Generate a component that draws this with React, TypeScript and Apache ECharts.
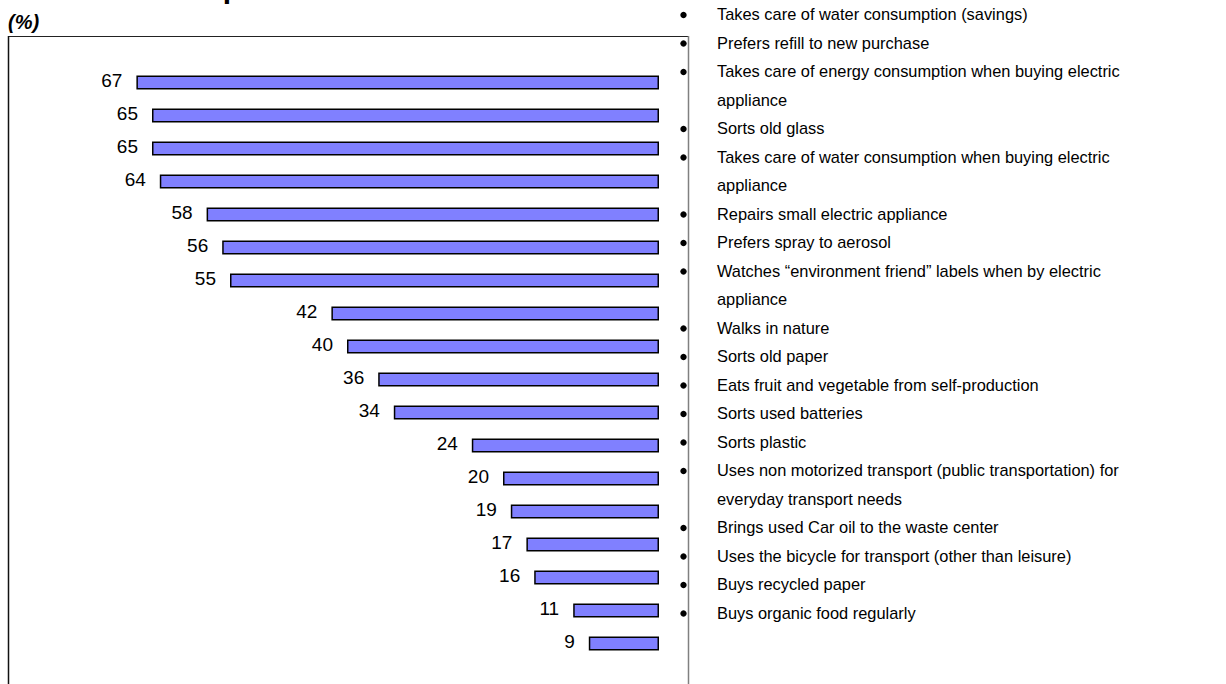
import React, { useEffect, useRef } from "react";
import * as echarts from "echarts";

const categories = [
  "Takes care of water consumption (savings)",
  "Prefers refill to new purchase",
  "Takes care of energy consumption when buying electric\nappliance",
  "Sorts old glass",
  "Takes care of water consumption when buying electric\nappliance",
  "Repairs small electric appliance",
  "Prefers spray to aerosol",
  "Watches \u201cenvironment friend\u201d labels when by electric\nappliance",
  "Walks in nature",
  "Sorts old paper",
  "Eats fruit and vegetable from self-production",
  "Sorts used batteries",
  "Sorts plastic",
  "Uses non motorized transport (public transportation) for\neveryday transport needs",
  "Brings used Car oil to the waste center",
  "Uses the bicycle for transport (other than leisure)",
  "Buys recycled paper",
  "Buys organic food regularly",
];

const values = [67, 65, 65, 64, 58, 56, 55, 42, 40, 36, 34, 24, 20, 19, 17, 16, 11, 9];

const titleText = "Environmental practices";
const unitText = "(%)";

const FONT = "'Liberation Sans', Arial, sans-serif";

export default function App() {
  const ref = useRef<HTMLDivElement>(null);

  useEffect(() => {
    if (!ref.current) return;
    const chart = echarts.init(ref.current, undefined, { renderer: "svg" });

    const graphics: any[] = [];
    // title (cut off at top, as in the reference)
    graphics.push({
      type: "text",
      left: 6,
      top: -28,
      style: { text: titleText, font: `bold 30px ${FONT}`, fill: "#000" },
    });
    graphics.push({
      type: "text",
      left: 8,
      top: 12,
      style: { text: unitText, font: `italic bold 20px ${FONT}`, fill: "#000" },
    });
    // frame
    graphics.push({
      type: "line",
      shape: { x1: 8, y1: 36.5, x2: 688.5, y2: 36.5 },
      style: { stroke: "#222", lineWidth: 1 },
    });
    graphics.push({
      type: "line",
      shape: { x1: 8.5, y1: 36, x2: 8.5, y2: 690 },
      style: { stroke: "#111", lineWidth: 1.5 },
    });
    graphics.push({
      type: "line",
      shape: { x1: 688.5, y1: 36, x2: 688.5, y2: 690 },
      style: { stroke: "#808080", lineWidth: 1.5 },
    });

    // bullet list
    const y0 = 14;
    const step = 28.5;
    let line = 0;
    categories.forEach((cat) => {
      const parts = cat.split("\n");
      graphics.push({
        type: "circle",
        shape: { cx: 683.5, cy: y0 + line * step + 1, r: 3.2 },
        style: { fill: "#000" },
      });
      parts.forEach((p) => {
        graphics.push({
          type: "text",
          x: 717,
          y: y0 + line * step,
          style: {
            text: p,
            font: `16.4px ${FONT}`,
            fill: "#000",
            verticalAlign: "middle",
          },
        });
        line++;
      });
    });

    chart.setOption({
      animation: false,
      grid: { left: 35, right: 567, top: 66, bottom: 24 },
      xAxis: {
        type: "value",
        inverse: true,
        min: 0,
        max: 80,
        show: false,
      },
      yAxis: {
        type: "category",
        inverse: true,
        data: categories,
        show: false,
      },
      series: [
        {
          type: "bar",
          data: values,
          barWidth: 14,
          itemStyle: { color: "#8080FF", borderColor: "#000", borderWidth: 1.5 },
          label: {
            show: true,
            position: "left",
            distance: 14,
            offset: [0, -2],
            fontSize: 19,
            fontFamily: FONT,
            color: "#000",
          },
        },
      ],
      graphic: graphics,
    });

    return () => chart.dispose();
  }, []);

  return (
    <div
      ref={ref}
      style={{ position: "fixed", left: 0, top: 0, width: 1226, height: 684, background: "#fff" }}
    />
  );
}
